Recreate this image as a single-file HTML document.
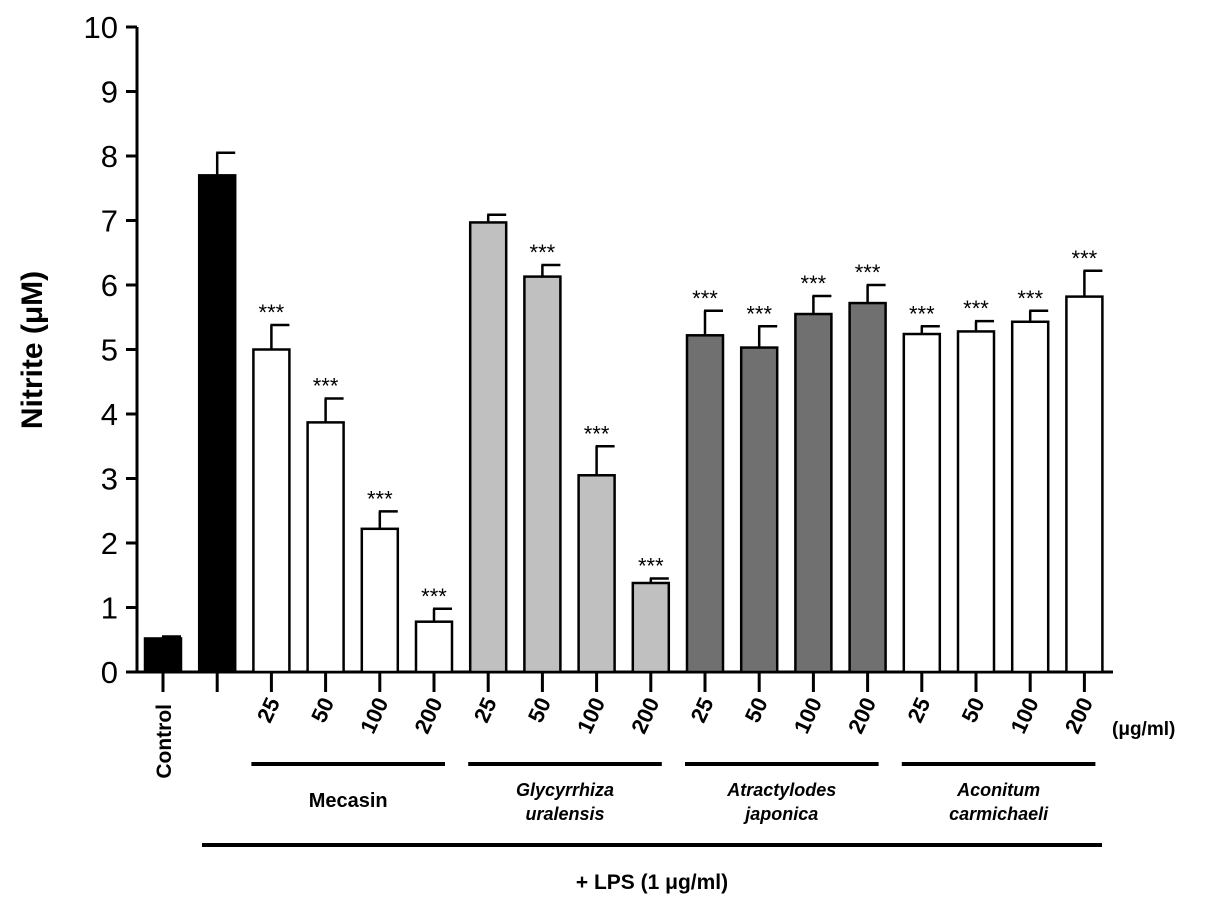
<!DOCTYPE html>
<html><head><meta charset="utf-8"><style>
body{margin:0;background:#fff}
svg{display:block;font-family:"Liberation Sans",Arial,sans-serif}
</style></head><body>
<svg id="chart" width="1205" height="907"></svg>
<script>
const categories=["Control","LPS","Mecasin 25","Mecasin 50","Mecasin 100","Mecasin 200","Glycyrrhiza 25","Glycyrrhiza 50","Glycyrrhiza 100","Glycyrrhiza 200","Atractylodes 25","Atractylodes 50","Atractylodes 100","Atractylodes 200","Aconitum 25","Aconitum 50","Aconitum 100","Aconitum 200"];
const doseLabels=["Control","","25","50","100","200","25","50","100","200","25","50","100","200","25","50","100","200"];
const values=[0.52,7.7,5.0,3.87,2.22,0.78,6.97,6.13,3.05,1.38,5.22,5.03,5.55,5.72,5.24,5.28,5.43,5.82];
const errors=[0.03,0.35,0.38,0.37,0.27,0.2,0.12,0.18,0.45,0.07,0.38,0.33,0.28,0.28,0.12,0.16,0.17,0.4];
const signif=[false,false,true,true,true,true,false,true,true,true,true,true,true,true,true,true,true,true];
const fills=["#000","#000","#fff","#fff","#fff","#fff","#c0c0c0","#c0c0c0","#c0c0c0","#c0c0c0","#707070","#707070","#707070","#707070","#fff","#fff","#fff","#fff"];
const yTicks=[0,1,2,3,4,5,6,7,8,9,10];
const groups=[["Mecasin"],["Glycyrrhiza","uralensis"],["Atractylodes","japonica"],["Aconitum","carmichaeli"]];
const groupStart=[2,6,10,14];

const NS="http://www.w3.org/2000/svg";
const svg=document.getElementById("chart");
const y0=672,yk=64.5,x0=163,xs=54.2,bw=36;
const Y=v=>y0-v*yk;
const X=i=>x0+i*xs;
function mk(tag,attrs,parent){const e=document.createElementNS(NS,tag);for(const k in attrs)e.setAttribute(k,attrs[k]);(parent||svg).appendChild(e);return e;}

const ax=mk("line",{x1:137,y1:Y(10),x2:137,y2:y0+1,stroke:"#000","stroke-width":3});


yTicks.forEach(t=>{
  const l=mk("line",{x1:126,y1:Y(t),x2:137,y2:Y(t),stroke:"#000","stroke-width":3});
  
  
  const tx=mk("text",{x:118,y:Y(t)+11,"text-anchor":"end","font-size":31,fill:"#000"});
  tx.textContent=t;
  
  
});
const yt=mk("text",{x:0,y:0,transform:"translate(42,350) rotate(-90)","text-anchor":"middle","font-size":30,"font-weight":"bold",fill:"#000"});
yt.textContent="Nitrite (μM)";



const xa=mk("line",{x1:136,y1:y0,x2:1113,y2:y0,stroke:"#000","stroke-width":3});



values.forEach((v,i)=>{
  const cx=X(i);
  const top=Y(v+errors[i]);
  const el=mk("line",{x1:cx,y1:Y(v),x2:cx,y2:top,stroke:"#000","stroke-width":2.5});
  
  
  const cap=mk("line",{x1:cx-1,y1:top,x2:cx+bw/2,y2:top,stroke:"#000","stroke-width":2.5});
  
  
  const r=mk("rect",{x:cx-bw/2,y:Y(v),width:bw,height:y0-Y(v),fill:fills[i],stroke:"#000","stroke-width":2.5});
  
  
  if(signif[i]){
    const s=mk("text",{x:cx,y:top-5,"text-anchor":"middle","font-size":22,fill:"#000"});
    s.textContent="***";
    
    
  }
  const tk=mk("line",{x1:cx,y1:y0,x2:cx,y2:692,stroke:"#000","stroke-width":3});
  
  
  if(doseLabels[i]){
    let lb;
    if(i===0){lb=mk("text",{x:0,y:0,transform:`translate(${cx+8},704) rotate(-90)`,"text-anchor":"end","font-size":21,"font-weight":"bold",fill:"#000"});}
    else{lb=mk("text",{x:0,y:0,transform:`translate(${cx+9},702) rotate(-65)`,"text-anchor":"end","font-size":22,"font-weight":"bold",fill:"#000"});}
    lb.textContent=doseLabels[i];
    
    
  }
});
const unit=mk("text",{x:1112,y:735,"font-size":19,"font-weight":"bold",fill:"#000"});
unit.textContent="(μg/ml)";



groups.forEach((g,k)=>{
  const s=groupStart[k];
  const x1=X(s)-20,x2=X(s+3)+11;
  const l=mk("line",{x1:x1,y1:764,x2:x2,y2:764,stroke:"#000","stroke-width":4});
  
  
  const mid=(x1+x2)/2;
  g.forEach((w,j)=>{
    const t=mk("text",{x:mid,y:g.length===1?807:(796+j*24),"text-anchor":"middle","font-size":g.length===1?20:18,"font-weight":"bold","font-style":g.length===1?"normal":"italic",fill:"#000"});
    t.textContent=w;
    
    
  });
});
const lps=mk("line",{x1:202,y1:845,x2:1102,y2:845,stroke:"#000","stroke-width":4});


const lt=mk("text",{x:652,y:889,"text-anchor":"middle","font-size":21,"font-weight":"bold",fill:"#000"});
lt.textContent="+ LPS (1 μg/ml)";


</script>
</body></html>
